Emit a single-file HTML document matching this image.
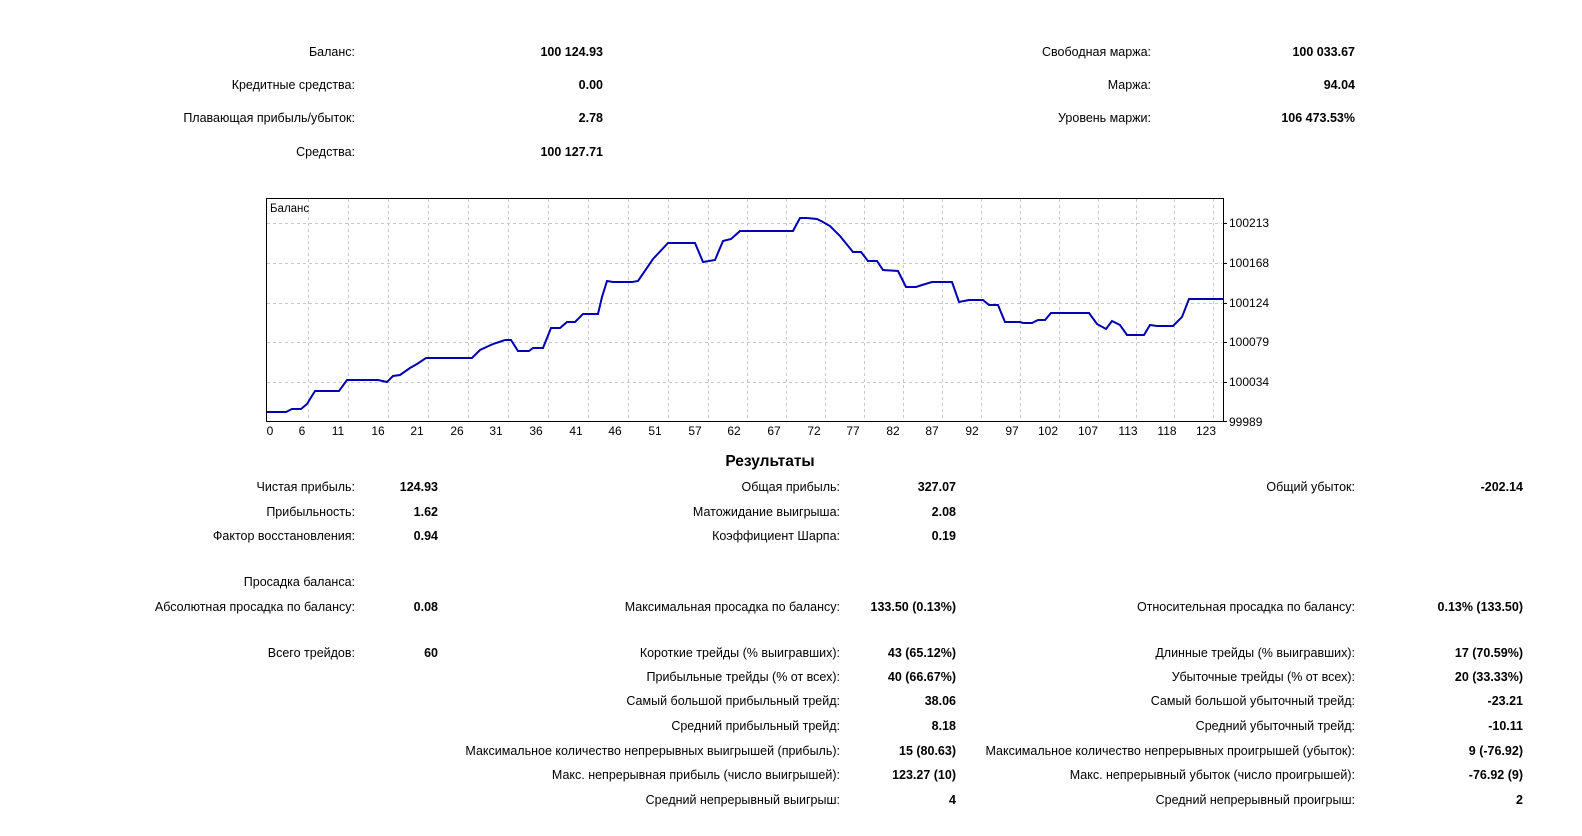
<!DOCTYPE html>
<html><head><meta charset="utf-8"><style>
html{margin:0;padding:0;width:1582px;height:836px;overflow:hidden}
body{margin:0;width:1582px;height:836px;background:#fff;position:relative;overflow:hidden;font-family:"Liberation Sans","DejaVu Sans",sans-serif;font-size:12.5px;color:#000}
.l,.v{position:absolute;white-space:nowrap;line-height:16px}
.v{font-weight:bold}
svg{position:absolute;left:0;top:0;display:block}
</style></head><body>
<div class="l" style="right:1227px;top:44px">Баланс:</div><div class="v" style="right:979px;top:44px">100 124.93</div>
<div class="l" style="right:1227px;top:77px">Кредитные средства:</div><div class="v" style="right:979px;top:77px">0.00</div>
<div class="l" style="right:1227px;top:110px">Плавающая прибыль/убыток:</div><div class="v" style="right:979px;top:110px">2.78</div>
<div class="l" style="right:1227px;top:144px">Средства:</div><div class="v" style="right:979px;top:144px">100 127.71</div>
<div class="l" style="right:431px;top:44px">Свободная маржа:</div><div class="v" style="right:227px;top:44px">100 033.67</div>
<div class="l" style="right:431px;top:77px">Маржа:</div><div class="v" style="right:227px;top:77px">94.04</div>
<div class="l" style="right:431px;top:110px">Уровень маржи:</div><div class="v" style="right:227px;top:110px">106 473.53%</div>

<svg width="1582" height="836" font-family="Liberation Sans, DejaVu Sans, sans-serif" font-size="12">
<g stroke="#c8c8c8" stroke-dasharray="3,3" stroke-width="1">
<line x1="267" x2="1222" y1="223.5" y2="223.5"/><line x1="267" x2="1222" y1="263.5" y2="263.5"/><line x1="267" x2="1222" y1="303.5" y2="303.5"/><line x1="267" x2="1222" y1="342.5" y2="342.5"/><line x1="267" x2="1222" y1="382.5" y2="382.5"/>
<line x1="308.5" x2="308.5" y1="199" y2="421"/><line x1="348.5" x2="348.5" y1="199" y2="421"/><line x1="388.5" x2="388.5" y1="199" y2="421"/><line x1="428.5" x2="428.5" y1="199" y2="421"/><line x1="468.5" x2="468.5" y1="199" y2="421"/><line x1="508.5" x2="508.5" y1="199" y2="421"/><line x1="548.5" x2="548.5" y1="199" y2="421"/><line x1="588.5" x2="588.5" y1="199" y2="421"/><line x1="628.5" x2="628.5" y1="199" y2="421"/><line x1="668.5" x2="668.5" y1="199" y2="421"/><line x1="708.5" x2="708.5" y1="199" y2="421"/><line x1="747.5" x2="747.5" y1="199" y2="421"/><line x1="786.5" x2="786.5" y1="199" y2="421"/><line x1="825.5" x2="825.5" y1="199" y2="421"/><line x1="864.5" x2="864.5" y1="199" y2="421"/><line x1="903.5" x2="903.5" y1="199" y2="421"/><line x1="942.5" x2="942.5" y1="199" y2="421"/><line x1="981.5" x2="981.5" y1="199" y2="421"/><line x1="1020.5" x2="1020.5" y1="199" y2="421"/><line x1="1059.5" x2="1059.5" y1="199" y2="421"/><line x1="1098.5" x2="1098.5" y1="199" y2="421"/><line x1="1136.5" x2="1136.5" y1="199" y2="421"/><line x1="1174.5" x2="1174.5" y1="199" y2="421"/><line x1="1213.5" x2="1213.5" y1="199" y2="421"/>
</g>
<rect x="266.5" y="198.5" width="957" height="223" fill="none" stroke="#000"/>
<g stroke="#000"><line x1="1223" x2="1227" y1="223.5" y2="223.5"/><line x1="1223" x2="1227" y1="263.5" y2="263.5"/><line x1="1223" x2="1227" y1="303.5" y2="303.5"/><line x1="1223" x2="1227" y1="342.5" y2="342.5"/><line x1="1223" x2="1227" y1="382.5" y2="382.5"/><line x1="1223" x2="1227" y1="421.5" y2="421.5"/></g>
<text x="270" y="212" font-size="11.5">Баланс</text>
<polyline fill="none" stroke="#0000b4" stroke-width="2" points="267,412 286,412 292,409 301,409 307,404 315,391 339,391 347,380 378,380 387,382 393,376 400,375 410,368 417,364 426,358 472,358 480,350 493,344 505,340 511,340 518,351 529,351 533,348 543,348 551,328 560,328 567,322 575,322 583,314 598,314 602,297 607,281 613,282 632,282 638,281 653,259 668,243 695,243 703,262 715,260 723,241 731,239 740,231 793,231 800,218 807,218 817,219 823,222 830,226 840,236 853,252 861,252 868,261 877,261 883,270 898,271 906,287 916,287 922,285 932,282 952,282 959,302 969,300 983,300 989,305 998,305 1005,322 1020,322 1023,323 1032,323 1038,320 1045,320 1051,313 1089,313 1097,324 1106,329 1112,321 1120,325 1127,335 1144,335 1150,325 1157,326 1173,326 1182,317 1189,299 1223,299"/>
<g font-size="12" text-anchor="start">
<text x="1229" y="227">100213</text><text x="1229" y="267">100168</text><text x="1229" y="307">100124</text><text x="1229" y="346">100079</text><text x="1229" y="386">100034</text><text x="1229" y="426">99989</text>
</g>
<g font-size="12" text-anchor="middle">
<text x="270" y="435">0</text><text x="302" y="435">6</text><text x="338" y="435">11</text><text x="378" y="435">16</text><text x="417" y="435">21</text><text x="457" y="435">26</text><text x="496" y="435">31</text><text x="536" y="435">36</text><text x="576" y="435">41</text><text x="615" y="435">46</text><text x="655" y="435">51</text><text x="695" y="435">57</text><text x="734" y="435">62</text><text x="774" y="435">67</text><text x="814" y="435">72</text><text x="853" y="435">77</text><text x="893" y="435">82</text><text x="932" y="435">87</text><text x="972" y="435">92</text><text x="1012" y="435">97</text><text x="1048" y="435">102</text><text x="1088" y="435">107</text><text x="1128" y="435">113</text><text x="1167" y="435">118</text><text x="1206" y="435">123</text>
</g>
<text x="770" y="466" text-anchor="middle" font-weight="bold" font-size="15.5">Результаты</text>
</svg>

<div class="l" style="right:1227px;top:479px">Чистая прибыль:</div><div class="v" style="right:1144px;top:479px">124.93</div>
<div class="l" style="right:1227px;top:504px">Прибыльность:</div><div class="v" style="right:1144px;top:504px">1.62</div>
<div class="l" style="right:1227px;top:528px">Фактор восстановления:</div><div class="v" style="right:1144px;top:528px">0.94</div>
<div class="l" style="right:1227px;top:574px">Просадка баланса:</div>
<div class="l" style="right:1227px;top:599px">Абсолютная просадка по балансу:</div><div class="v" style="right:1144px;top:599px">0.08</div>
<div class="l" style="right:1227px;top:645px">Всего трейдов:</div><div class="v" style="right:1144px;top:645px">60</div>
<div class="l" style="right:742px;top:479px">Общая прибыль:</div><div class="v" style="right:626px;top:479px">327.07</div>
<div class="l" style="right:742px;top:504px">Матожидание выигрыша:</div><div class="v" style="right:626px;top:504px">2.08</div>
<div class="l" style="right:742px;top:528px">Коэффициент Шарпа:</div><div class="v" style="right:626px;top:528px">0.19</div>
<div class="l" style="right:742px;top:599px">Максимальная просадка по балансу:</div><div class="v" style="right:626px;top:599px">133.50 (0.13%)</div>
<div class="l" style="right:742px;top:645px">Короткие трейды (% выигравших):</div><div class="v" style="right:626px;top:645px">43 (65.12%)</div>
<div class="l" style="right:742px;top:669px">Прибыльные трейды (% от всех):</div><div class="v" style="right:626px;top:669px">40 (66.67%)</div>
<div class="l" style="right:742px;top:693px">Самый большой прибыльный трейд:</div><div class="v" style="right:626px;top:693px">38.06</div>
<div class="l" style="right:742px;top:718px">Средний прибыльный трейд:</div><div class="v" style="right:626px;top:718px">8.18</div>
<div class="l" style="right:742px;top:743px">Максимальное количество непрерывных выигрышей (прибыль):</div><div class="v" style="right:626px;top:743px">15 (80.63)</div>
<div class="l" style="right:742px;top:767px">Макс. непрерывная прибыль (число выигрышей):</div><div class="v" style="right:626px;top:767px">123.27 (10)</div>
<div class="l" style="right:742px;top:792px">Средний непрерывный выигрыш:</div><div class="v" style="right:626px;top:792px">4</div>
<div class="l" style="right:227px;top:479px">Общий убыток:</div><div class="v" style="right:59px;top:479px">-202.14</div>
<div class="l" style="right:227px;top:599px">Относительная просадка по балансу:</div><div class="v" style="right:59px;top:599px">0.13% (133.50)</div>
<div class="l" style="right:227px;top:645px">Длинные трейды (% выигравших):</div><div class="v" style="right:59px;top:645px">17 (70.59%)</div>
<div class="l" style="right:227px;top:669px">Убыточные трейды (% от всех):</div><div class="v" style="right:59px;top:669px">20 (33.33%)</div>
<div class="l" style="right:227px;top:693px">Самый большой убыточный трейд:</div><div class="v" style="right:59px;top:693px">-23.21</div>
<div class="l" style="right:227px;top:718px">Средний убыточный трейд:</div><div class="v" style="right:59px;top:718px">-10.11</div>
<div class="l" style="right:227px;top:743px">Максимальное количество непрерывных проигрышей (убыток):</div><div class="v" style="right:59px;top:743px">9 (-76.92)</div>
<div class="l" style="right:227px;top:767px">Макс. непрерывный убыток (число проигрышей):</div><div class="v" style="right:59px;top:767px">-76.92 (9)</div>
<div class="l" style="right:227px;top:792px">Средний непрерывный проигрыш:</div><div class="v" style="right:59px;top:792px">2</div>
</body></html>
